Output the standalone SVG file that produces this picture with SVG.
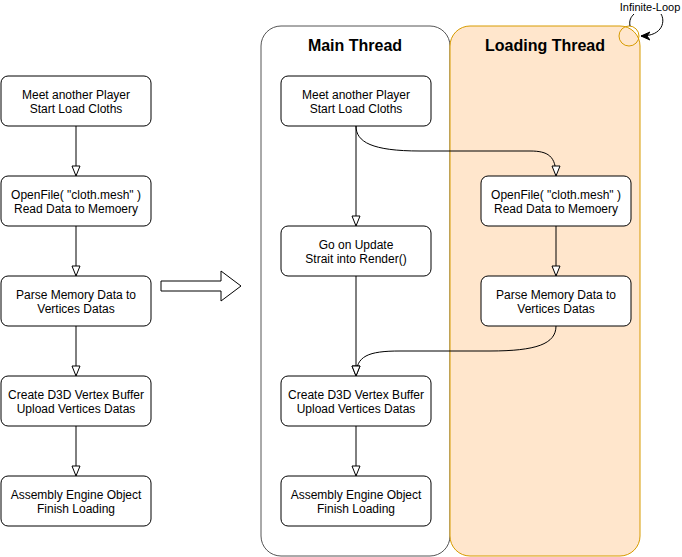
<svg xmlns="http://www.w3.org/2000/svg" width="682" height="557" viewBox="0 0 682 557">
<defs>
<style>
text{font-family:"Liberation Sans",Arial,sans-serif;font-size:12px;fill:#000;text-anchor:middle}
.box{fill:#fff;stroke:#000;stroke-width:1}
.edge{fill:none;stroke:#000;stroke-width:1}
.title{font-size:16px;font-weight:bold}
</style>
<marker id="open" viewBox="0 0 12 10" markerWidth="12" markerHeight="10" refX="11" refY="5" orient="auto" markerUnits="userSpaceOnUse">
<path d="M1,1 L11,5 L1,9 Z" fill="#fff" stroke="#000" stroke-width="1"/>
</marker>
<marker id="solid" viewBox="0 0 10 10" markerWidth="10" markerHeight="10" refX="9" refY="5" orient="auto" markerUnits="userSpaceOnUse">
<path d="M0,1 L9,5 L0,9 L3,5 Z" fill="#000" stroke="#000" stroke-width="1"/>
</marker>
</defs>
<g id="main-thread">
<rect x="261" y="26" width="189" height="530" rx="20" fill="#fff" stroke="#555"/>
<text class="title" x="355" y="51">Main Thread</text>
</g>
<g id="loading-thread">
<rect x="450" y="26" width="190" height="530" rx="20" fill="#ffe6cc" stroke="#d79b00"/>
<text class="title" x="545" y="51">Loading Thread</text>
</g>
<g id="loop-circle">
<circle cx="629" cy="36" r="10" fill="none" stroke="#d79b00"/>
</g>
<g id="loop-label">
<text x="650" y="11" style="font-size:11px">Infinite-Loop</text>
</g>
<g id="big-arrow">
<path d="M161,281 L221,281 L221,271 L241,286 L221,301 L221,291 L161,291 Z" fill="#fff" stroke="#000"/>
</g>
<g id="l1"><rect class="box" x="1" y="76" width="150" height="50" rx="7"/><text x="76" y="99">Meet another Player</text><text x="76" y="113">Start Load Cloths</text></g>
<g id="l2"><rect class="box" x="1" y="176" width="150" height="50" rx="7"/><text x="76" y="199">OpenFile( "cloth.mesh" )</text><text x="76" y="213">Read Data to Memoery</text></g>
<g id="l3"><rect class="box" x="1" y="276" width="150" height="50" rx="7"/><text x="76" y="299">Parse Memory Data to</text><text x="76" y="313">Vertices Datas</text></g>
<g id="l4"><rect class="box" x="1" y="376" width="150" height="50" rx="7"/><text x="76" y="399">Create D3D Vertex Buffer</text><text x="76" y="413">Upload Vertices Datas</text></g>
<g id="l5"><rect class="box" x="1" y="476" width="150" height="50" rx="7"/><text x="76" y="499">Assembly Engine Object</text><text x="76" y="513">Finish Loading</text></g>
<g id="m1"><rect class="box" x="281" y="76" width="150" height="50" rx="7"/><text x="356" y="99">Meet another Player</text><text x="356" y="113">Start Load Cloths</text></g>
<g id="m2"><rect class="box" x="281" y="226" width="150" height="50" rx="7"/><text x="356" y="249">Go on Update</text><text x="356" y="263">Strait into Render()</text></g>
<g id="m3"><rect class="box" x="281" y="376" width="150" height="50" rx="7"/><text x="356" y="399">Create D3D Vertex Buffer</text><text x="356" y="413">Upload Vertices Datas</text></g>
<g id="m4"><rect class="box" x="281" y="476" width="150" height="50" rx="7"/><text x="356" y="499">Assembly Engine Object</text><text x="356" y="513">Finish Loading</text></g>
<g id="t1"><rect class="box" x="481" y="176" width="150" height="50" rx="7"/><text x="556" y="199">OpenFile( "cloth.mesh" )</text><text x="556" y="213">Read Data to Memoery</text></g>
<g id="t2"><rect class="box" x="481" y="276" width="150" height="50" rx="7"/><text x="556" y="299">Parse Memory Data to</text><text x="556" y="313">Vertices Datas</text></g>
<g id="connectors">
<path class="edge" d="M76,126 L76,176" marker-end="url(#open)"/>
<path class="edge" d="M76,226 L76,276" marker-end="url(#open)"/>
<path class="edge" d="M76,326 L76,376" marker-end="url(#open)"/>
<path class="edge" d="M76,426 L76,476" marker-end="url(#open)"/>
<path class="edge" d="M356,126 L356,226" marker-end="url(#open)"/>
<path class="edge" d="M356,276 L356,376" marker-end="url(#open)"/>
<path class="edge" d="M356,426 L356,476" marker-end="url(#open)"/>
<path class="edge" d="M556,226 L556,276" marker-end="url(#open)"/>
<path class="edge" d="M356,126 C356,142 372,151 420,151 L530,151 C548,151 556,156 556,176" marker-end="url(#open)"/>
<path class="edge" d="M556,326 C556,344 536,351 490,351 L400,351 C368,351 356,356 356,376" marker-end="url(#open)"/>
<path class="edge" d="M630,26 C629,20 631,17 634,14"/>
<path class="edge" d="M661,14 C665,20 664,36 641,36" marker-end="url(#solid)"/>
</g>
</svg>
